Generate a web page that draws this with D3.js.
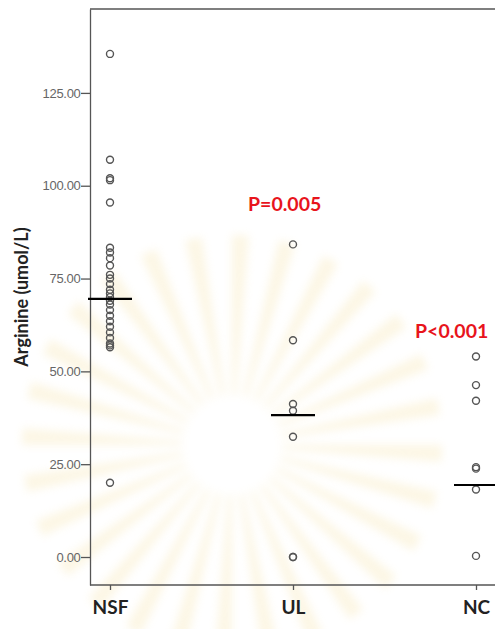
<!DOCTYPE html>
<html><head><meta charset="utf-8">
<script src="https://cdn.jsdelivr.net/npm/d3@7"></script>
<style>body{margin:0;background:#fff}svg{display:block}</style>
</head><body>
<script>
const categories = ["NSF", "UL", "NC"];
const nsfValues = [135.5, 107, 102, 101.5, 95.5, 83.3, 82, 80.5, 78.5, 76, 75, 73.5, 72, 71, 70, 69, 68, 66.5, 65, 63.5, 62, 60.5, 59, 57.5, 57, 56.5, 20];
const ulValues = [84.2, 58.4, 41.2, 39.4, 32.4, 0, 0];
const ncValues = [54, 46.3, 42.1, 24.2, 23.8, 18.2, 0.3];
const medians = [69.5, 38.2, 19.4];
const pLabels = [null, "P=0.005", "P<0.001"];
const pLabelValues = [null, 95.2, 60.9];
const yTicks = [0, 25, 50, 75, 100, 125];
const yTitle = "Arginine (umol/L)";

const W = 495, H = 629;
const svg = d3.select("body").append("svg").attr("width", W).attr("height", H);

// very faint watermark (decoration)
const defs = svg.append("defs");
const blur = defs.append("filter").attr("id", "blur");
blur.append("feGaussianBlur").attr("stdDeviation", 4);
const wm = svg.append("g").attr("transform", "translate(232,445)").attr("opacity", 0.22).attr("filter", "url(#blur)");
const rays = d3.range(28);
const rayArc = d3.arc().innerRadius(50).outerRadius(210);
wm.selectAll("path").data(rays).join("path")
  .attr("d", i => rayArc({startAngle: i * 2 * Math.PI / 28, endAngle: i * 2 * Math.PI / 28 + 0.08}))
  .attr("fill", "#f3d98a");

const x = d3.scalePoint().domain(categories).range([110, 476]);
const y = d3.scaleLinear().domain([-7.54, 147.6]).range([585, 9]);

const frameColor = "#555";
svg.append("line").attr("x1", 90).attr("x2", W + 2).attr("y1", 9).attr("y2", 9)
  .attr("stroke", frameColor).attr("stroke-width", 1.3);

// y axis
const yAxis = svg.append("g").attr("transform", "translate(90,0)")
  .call(d3.axisLeft(y).tickValues(yTicks).tickFormat(d3.format(".2f")).tickSize(9).tickSizeOuter(0));
yAxis.select(".domain").attr("stroke", frameColor).attr("stroke-width", 1.3);
yAxis.selectAll(".tick line").attr("stroke", frameColor).attr("stroke-width", 1.3);
yAxis.selectAll(".tick text").attr("fill", "#666").attr("font-family", "Liberation Sans, Arial, sans-serif")
  .attr("font-size", 13).attr("x", -9.5).attr("letter-spacing", -0.3);

// x axis
const xAxis = svg.append("g").attr("transform", "translate(0,585)")
  .call(d3.axisBottom(x).tickSize(5).tickSizeOuter(0));
xAxis.select(".domain").attr("d", `M90,0H${W + 2}`).attr("stroke", frameColor).attr("stroke-width", 1.3);
xAxis.selectAll(".tick line").attr("stroke", frameColor).attr("stroke-width", 1.3);
xAxis.selectAll(".tick text").attr("fill", "#222").attr("font-family", "Lato, 'Open Sans', sans-serif")
  .attr("font-weight", "bold").attr("font-size", 19).attr("y", 16);

// y title
svg.append("text").attr("transform", "translate(28,297) rotate(-90)")
  .attr("text-anchor", "middle").attr("font-family", "Lato, 'Open Sans', sans-serif")
  .attr("font-weight", "bold").attr("font-size", 18).attr("fill", "#222").text(yTitle);

// points
const seriesList = [nsfValues, ulValues, ncValues];
seriesList.forEach((vals, i) => {
  svg.append("g").selectAll("circle").data(vals).join("circle")
    .attr("cx", x(categories[i])).attr("cy", d => y(d)).attr("r", 3.5)
    .attr("fill", "none").attr("stroke", "#555").attr("stroke-width", 1.4);
});

// medians
svg.append("g").selectAll("line").data(medians).join("line")
  .attr("x1", (d, i) => x(categories[i]) - 22).attr("x2", (d, i) => x(categories[i]) + 22)
  .attr("y1", d => y(d)).attr("y2", d => y(d))
  .attr("stroke", "#000").attr("stroke-width", 2.2);

// p labels
svg.append("g").selectAll("text").data(pLabels.map((t, i) => ({t, v: pLabelValues[i], c: categories[i]})).filter(d => d.t))
  .join("text").attr("x", d => x(d.c) - (d.c === "NC" ? 61 : 45)).attr("y", d => y(d.v))
  .attr("text-anchor", "start").attr("dominant-baseline", "central")
  .attr("font-family", "Lato, 'Open Sans', sans-serif").attr("font-weight", "bold")
  .attr("font-size", 19.5).attr("fill", "#e8141c").text(d => d.t);
</script>
</body></html>
